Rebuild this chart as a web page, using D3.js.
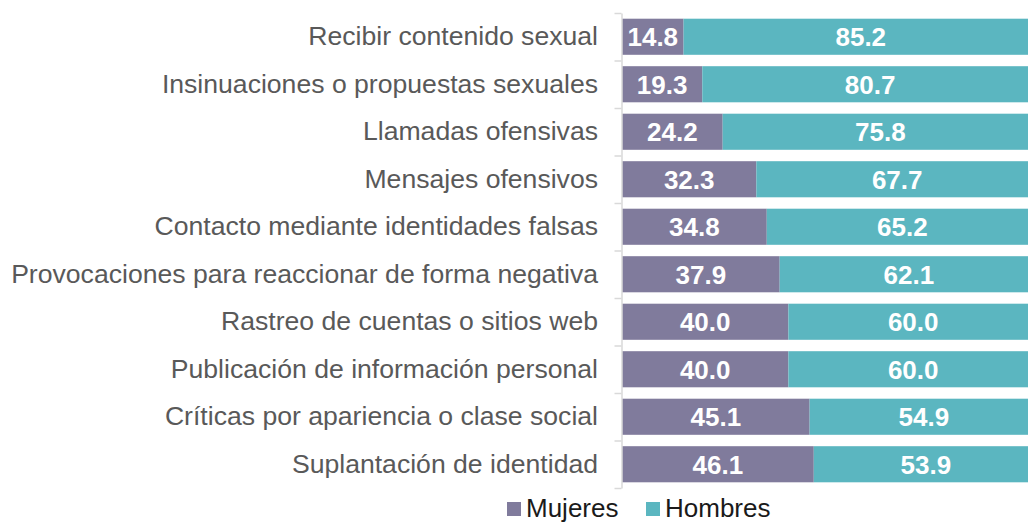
<!DOCTYPE html>
<html>
<head>
<meta charset="utf-8">
<script src="https://cdn.jsdelivr.net/npm/d3@7"></script>
<style>
  body { margin: 0; background: #fff; }
  svg { display: block; font-family: "Liberation Sans", Arial, sans-serif; }
</style>
</head>
<body>
<svg id="chart"></svg>
<script>
const categories = [
  'Recibir contenido sexual',
  'Insinuaciones o propuestas sexuales',
  'Llamadas ofensivas',
  'Mensajes ofensivos',
  'Contacto mediante identidades falsas',
  'Provocaciones para reaccionar de forma negativa',
  'Rastreo de cuentas o sitios web',
  'Publicación de información personal',
  'Críticas por apariencia o clase social',
  'Suplantación de identidad'
];
const mujeres = [14.8, 19.3, 24.2, 32.3, 34.8, 37.9, 40.0, 40.0, 45.1, 46.1];
const hombres = [85.2, 80.7, 75.8, 67.7, 65.2, 62.1, 60.0, 60.0, 54.9, 53.9];
const seriesNames = ['Mujeres', 'Hombres'];
const colors = ['#807b9c', '#5bb6c0'];

const width = 1028;
const height = 522;

const svg = d3.select('#chart')
  .attr('width', width)
  .attr('height', height);

const y = d3.scaleBand()
  .domain(categories)
  .range([13, 488])
  .paddingInner(0.24)
  .paddingOuter(0.12);

// boundaries between categories, for the little tick marks
const yEdge = d3.scaleLinear()
  .domain([0, categories.length])
  .range([13, 488]);

const x = d3.scaleLinear()
  .domain([0, 100])
  .range([622, 1038]);

const rows = categories.map((c, i) => ({ cat: c, values: [mujeres[i], hombres[i]] }));

const stacked = d3.stack()
  .keys([0, 1])
  .value((d, k) => d.values[k])(rows);

svg.append('g')
  .selectAll('g')
  .data(stacked)
  .join('g')
  .attr('fill', (d, i) => colors[i])
  .selectAll('rect')
  .data(d => d)
  .join('rect')
  .attr('x', d => x(d[0]))
  .attr('y', d => y(d.data.cat))
  .attr('width', d => x(d[1]) - x(d[0]))
  .attr('height', y.bandwidth());

svg.append('g')
  .selectAll('g')
  .data(stacked)
  .join('g')
  .selectAll('text')
  .data(d => d)
  .join('text')
  .attr('x', d => (x(d[0]) + x(d[1])) / 2)
  .attr('y', d => y(d.data.cat) + y.bandwidth() / 2)
  .attr('dy', '0.36em')
  .attr('text-anchor', 'middle')
  .attr('fill', '#fff')
  .attr('font-weight', 'bold')
  .attr('font-size', 26)
  .text(d => (d[1] - d[0]).toFixed(1));

// axis line with boundary ticks
const edgeAxis = svg.append('g')
  .attr('transform', 'translate(621.5,0)')
  .call(d3.axisLeft(yEdge).tickValues(d3.range(categories.length + 1)).tickFormat('').tickSize(7).tickSizeOuter(0));
edgeAxis.selectAll('line, path').attr('stroke', '#d9d9d9').attr('stroke-width', 1.5);

// category labels
const labelAxis = svg.append('g')
  .attr('transform', 'translate(621,0)')
  .call(d3.axisLeft(y).tickSize(0).tickPadding(23));
labelAxis.select('.domain').remove();
labelAxis.selectAll('text')
  .attr('font-family', '"Liberation Sans", Arial, sans-serif')
  .attr('font-size', 26.6)
  .attr('fill', '#595959');

// legend
const legend = svg.append('g');
const legendX = [507, 646];
seriesNames.forEach((name, i) => {
  legend.append('rect')
    .attr('x', legendX[i])
    .attr('y', 502)
    .attr('width', 14)
    .attr('height', 14)
    .attr('fill', colors[i]);
  legend.append('text')
    .attr('x', legendX[i] + 19)
    .attr('y', 517)
    .attr('font-size', 26)
    .attr('fill', '#1a1a1a')
    .text(name);
});
</script>
</body>
</html>
